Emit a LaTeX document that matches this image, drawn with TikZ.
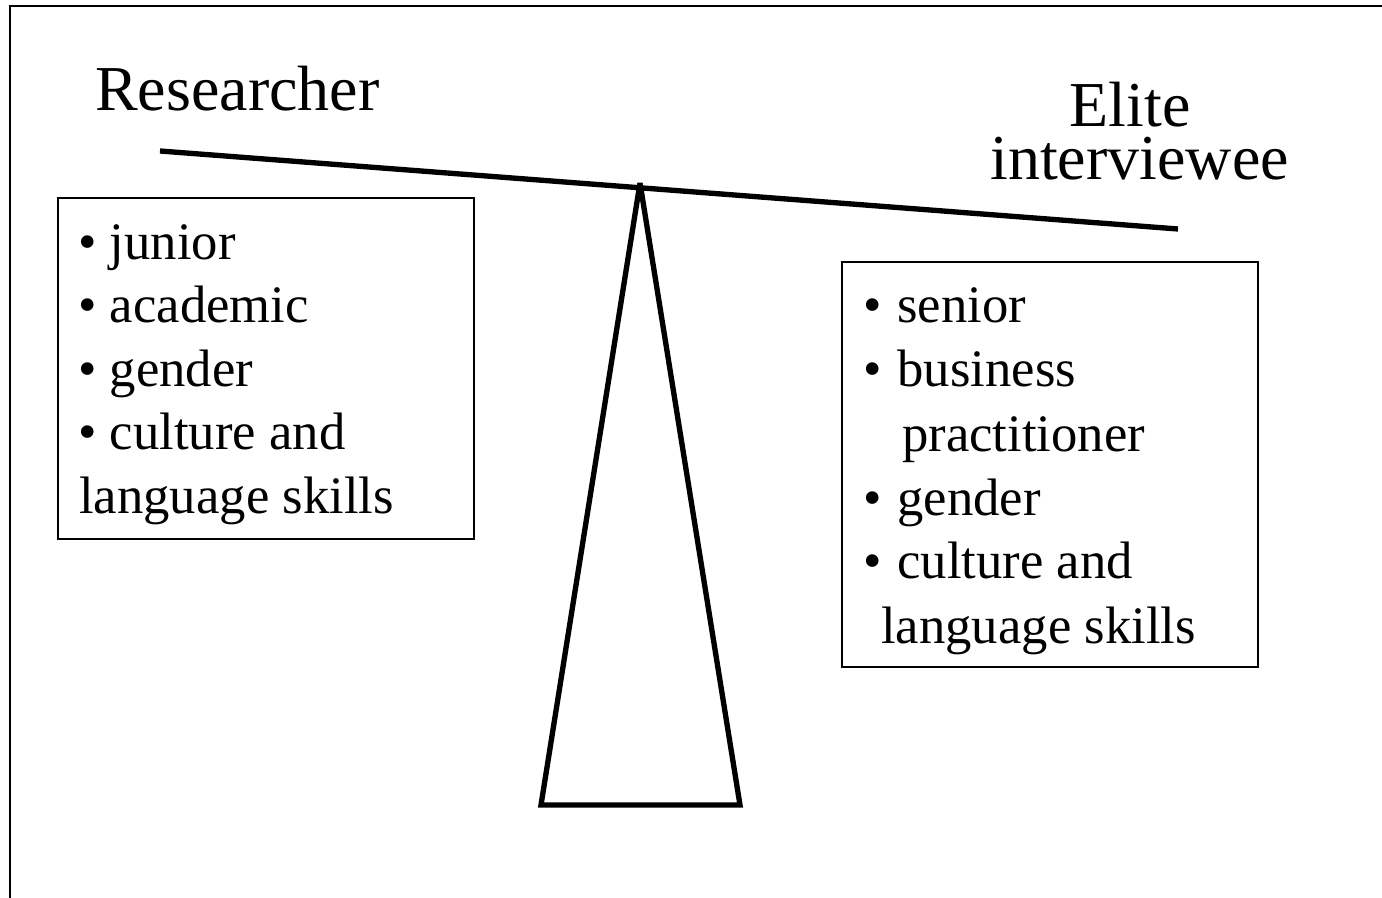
\documentclass[tikz,border=0pt]{standalone}
\usepackage{fontspec}
\setmainfont{Liberation Serif}
\begin{document}
\begin{tikzpicture}[x=0.75pt,y=-0.75pt,
  frameline/.style={line width=1.5pt},
  heavy/.style={line width=4pt},
  listbox/.style={draw,line width=1.1pt,rectangle,inner sep=0pt},
  title/.style={font=\fontsize{48}{40}\selectfont,inner sep=0pt,anchor=base west},
  item/.style={font=\fontsize{39.5}{47.6}\selectfont,inner sep=0pt,anchor=base west}]
\useasboundingbox (0,0) rectangle (1382,898);
\fill[white] (0,0) rectangle (1382,898);

% outer frame (top and left edges)
\coordinate (fbl) at (10,900);
\coordinate (ftl) at (10,6);
\coordinate (ftr) at (1384,6);
\draw[frameline] (fbl) -- (ftl) -- (ftr);

% fulcrum: square base corners, bevelled tip
\coordinate (pl) at (541,805);
\coordinate (pt) at (640,183);
\coordinate (pr) at (740,805);
\draw[heavy,line join=miter,miter limit=2] (pl) -- (pt) -- (pr) -- cycle;

% beam
\coordinate (bl) at (160,151);
\coordinate (br) at (1178,229);
\draw[heavy] (bl) -- (br);

% titles
\node[title] (researcher) at (95,111) {Researcher};
\node[title,anchor=base] (elite) at (1130,127) {Elite};
\node[title] (interviewee) at (990,180) {interviewee};

% left box
\node[listbox,minimum width=312pt,minimum height=255.75pt] (leftbox) at (266,368.5) {};
\node[item] (l1) at (78,260) {• junior};
\node[item] (l2) at (78,323) {• academic};
\node[item] (l3) at (78,387) {• gender};
\node[item] (l4) at (78,450) {• culture and};
\node[item] (l5) at (79,513) {language skills};

% right box
\node[listbox,minimum width=312pt,minimum height=303.75pt] (rightbox) at (1050,464.5) {};
\node[item] (r1) at (863,323) {•\hspace{2pt} senior};
\node[item] (r2) at (863,387) {•\hspace{2pt} business};
\node[item] (r3) at (902,452) {practitioner};
\node[item] (r4) at (863,515) {•\hspace{2pt} gender};
\node[item] (r5) at (863,578) {•\hspace{2pt} culture and};
\node[item] (r6) at (881,643) {language skills};
\end{tikzpicture}
\end{document}
